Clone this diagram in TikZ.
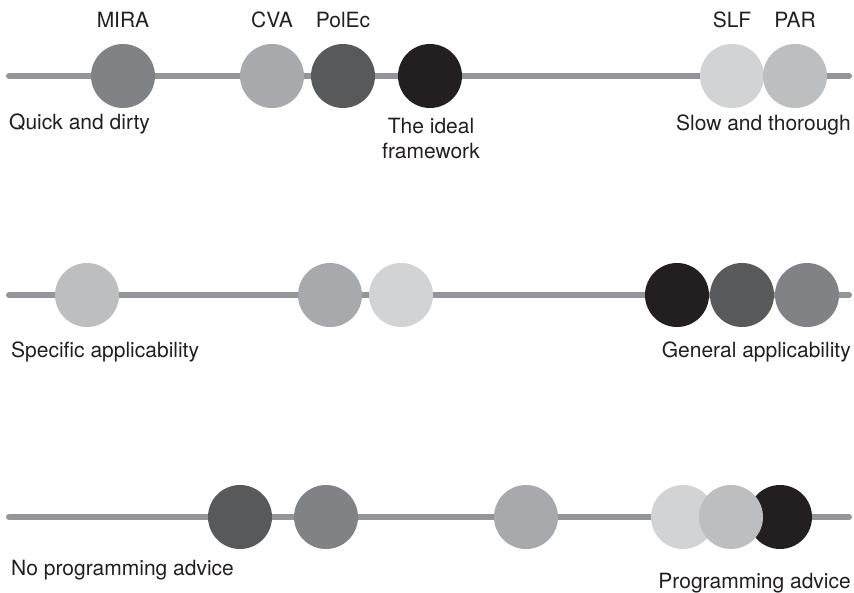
\documentclass[tikz,border=0pt]{standalone}
\usepackage{fontspec}
\setmainfont{TeX Gyre Heros}
\usetikzlibrary{positioning}

\definecolor{grayK}{HTML}{231F20}
\definecolor{grayE}{HTML}{58595B}
\definecolor{grayF}{HTML}{808285}
\definecolor{grayR}{HTML}{939598}
\definecolor{grayD}{HTML}{A7A9AC}
\definecolor{grayC}{HTML}{BCBEC0}
\definecolor{grayB}{HTML}{D1D3D4}

\tikzset{
    bead/.style={circle, minimum size=64pt, inner sep=0pt},
    rail/.style={line width=6pt, line cap=round, draw=grayR},
    tag/.style={font=\fontsize{21}{25}\selectfont, text=grayK, inner sep=0pt}
}

\begin{document}
\begin{tikzpicture}[x=1pt,y=-1pt]
        \useasboundingbox (0,0) rectangle (854,592);
        %三條軸線的兩端
        \coordinate (Left1) at (9,76);
        \coordinate (Right1) at (849,76);
        \coordinate (Left2) at (9,295);
        \coordinate (Right2) at (849,295);
        \coordinate (Left3) at (9,517);
        \coordinate (Right3) at (849,517);

        \draw [rail] (Left1) -- (Right1);
        \draw [rail] (Left2) -- (Right2);
        \draw [rail] (Left3) -- (Right3);

        %每條軸上的圓點: 名稱/x/y/顏色
        \foreach \v/\x/\y/\c in
        { MIRA1/123/76/grayF,
            CVA1/272/76/grayD,
            PolEc1/343/76/grayE,
            Ideal1/430/76/grayK,
            SLF1/732/76/grayB,
            PAR1/795/76/grayC,
            PAR2/87/295/grayC,
            CVA2/330/295/grayD,
            SLF2/401/295/grayB,
            Ideal2/677/295/grayK,
            PolEc2/742/295/grayE,
            MIRA2/807/295/grayF,
            PolEc3/240/517/grayE,
            MIRA3/326/517/grayF,
            CVA3/526/517/grayD,
            Ideal3/780/517/grayK,
            SLF3/683/517/grayB,
            PAR3/731/517/grayC}
        {
            \node[bead, fill=\c] (\v) at (\x,\y) {};
        };

        %第一條軸上方的名稱
        \foreach \v/\t in {MIRA1/MIRA, CVA1/CVA, PolEc1/PolEc, SLF1/SLF, PAR1/PAR}
        {
            \node[tag, above=16pt of \v] {\t};
        };

        %軸線兩端的說明
        \node[tag, anchor=base west] (quick) at (9,129) {Quick and dirty};
        \node[tag, anchor=base, align=center] (ideal) at (431,158) {The ideal\\framework};
        \node[tag, anchor=base east] (slow) at (851,130) {Slow and thorough};
        \node[tag, anchor=base west] (specific) at (11,357) {Specific applicability};
        \node[tag, anchor=base east] (general) at (851,357) {General applicability};
        \node[tag, anchor=base west] (noprog) at (11,575) {No programming advice};
        \node[tag, anchor=base east] (prog) at (851,588) {Programming advice};
\end{tikzpicture}
\end{document}
